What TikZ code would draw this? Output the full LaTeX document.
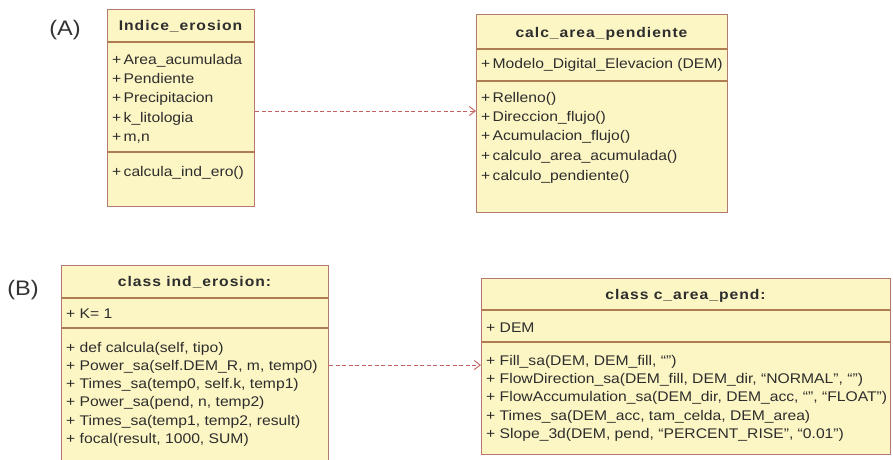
\documentclass[tikz,border=0pt]{standalone}
\usepackage{fontspec}
\setmainfont{Liberation Sans}[FakeStretch=1.12]
\usetikzlibrary{arrows.meta}
\definecolor{boxfill}{RGB}{252,246,196}
\definecolor{boxedge}{RGB}{178,122,112}
\definecolor{divline}{RGB}{176,124,84}
\definecolor{arrowc}{RGB}{196,96,96}
\definecolor{txt}{RGB}{45,45,45}
\tikzset{
  classbox/.style={draw=boxedge, fill=boxfill, line width=1.3pt, inner sep=0pt, anchor=north west},
  divider/.style={draw=divline, line width=1.8pt},
  rowtext/.style={anchor=base west, inner sep=0pt, text=txt, font=\fontsize{14}{16}\selectfont},
  hdrtext/.style={anchor=base, inner sep=0pt, text=txt, font=\fontsize{14}{16}\selectfont\bfseries\addfontfeatures{LetterSpace=7}},
  lbltext/.style={inner sep=0pt, text=black!80, font=\fontsize{21}{24}\selectfont},
  dep/.style={draw=arrowc, line width=0.9pt, dash pattern=on 4pt off 2.5pt, -{Straight Barb[length=6pt,width=9pt]}}
}
\begin{document}
\begin{tikzpicture}[x=1pt,y=-1pt]
\clip (0,0) rectangle (893,459);
\fill[white] (0,0) rectangle (893,459);

% labels
\node[lbltext] (la) at (65,30) {(A)};
\node[lbltext] (lb) at (23,290) {(B)};

% ---------- A1 ----------
\node[classbox, minimum width=147pt, minimum height=197pt] (a1) at (107,9) {};
\draw[divider] (a1.west |- 0,42) -- (a1.east |- 0,42);
\draw[divider] (a1.west |- 0,152) -- (a1.east |- 0,152);
\node[hdrtext] (a1h) at (180.5,30) {Indice\_erosion};
\node[rowtext] (a1r1) at (112,64) {+\,Area\_acumulada};
\node[rowtext] (a1r2) at (112,83.5) {+\,Pendiente};
\node[rowtext] (a1r3) at (112,102.5) {+\,Precipitacion};
\node[rowtext] (a1r4) at (112,122) {+\,k\_litologia};
\node[rowtext] (a1r5) at (112,141) {+\,m,n};
\node[rowtext] (a1m1) at (112,176) {+\,calcula\_ind\_ero()};

% ---------- A2 ----------
\node[classbox, minimum width=251pt, minimum height=198pt] (a2) at (476,14) {};
\draw[divider] (a2.west |- 0,49) -- (a2.east |- 0,49);
\draw[divider] (a2.west |- 0,81) -- (a2.east |- 0,81);
\node[hdrtext] (a2h) at (601.5,37) {calc\_area\_pendiente};
\node[rowtext] (a2r1) at (481,68) {+\,Modelo\_Digital\_Elevacion (DEM)};
\node[rowtext] (a2m1) at (481,102) {+\,Relleno()};
\node[rowtext] (a2m2) at (481,121) {+\,Direccion\_flujo()};
\node[rowtext] (a2m3) at (481,140) {+\,Acumulacion\_flujo()};
\node[rowtext] (a2m4) at (481,160) {+\,calculo\_area\_acumulada()};
\node[rowtext] (a2m5) at (481,180) {+\,calculo\_pendiente()};

% ---------- B1 ----------
\node[classbox, minimum width=267pt, minimum height=215pt] (b1) at (61,265) {};
\draw[divider] (b1.west |- 0,298) -- (b1.east |- 0,298);
\draw[divider] (b1.west |- 0,328) -- (b1.east |- 0,328);
\node[hdrtext] (b1h) at (194.5,286) {class ind\_erosion:};
\node[rowtext] (b1r1) at (66,318) {+ K= 1};
\node[rowtext] (b1m1) at (66,352) {+ def calcula(self, tipo)};
\node[rowtext] (b1m2) at (66,370) {+ Power\_sa(self.DEM\_R, m, temp0)};
\node[rowtext] (b1m3) at (66,388) {+ Times\_sa(temp0, self.k, temp1)};
\node[rowtext] (b1m4) at (66,406) {+ Power\_sa(pend, n, temp2)};
\node[rowtext] (b1m5) at (66,425) {+ Times\_sa(temp1, temp2, result)};
\node[rowtext] (b1m6) at (66,443) {+ focal(result, 1000, SUM)};

% ---------- B2 ----------
\node[classbox, minimum width=409pt, minimum height=176pt] (b2) at (481,278) {};
\draw[divider] (b2.west |- 0,310) -- (b2.east |- 0,310);
\draw[divider] (b2.west |- 0,342) -- (b2.east |- 0,342);
\node[hdrtext] (b2h) at (685.5,299) {class c\_area\_pend:};
\node[rowtext] (b2r1) at (486,332) {+ DEM};
\node[rowtext] (b2m1) at (486,365) {+ Fill\_sa(DEM, DEM\_fill, ``'')};
\node[rowtext] (b2m2) at (486,383) {+ FlowDirection\_sa(DEM\_fill, DEM\_dir, ``NORMAL'', ``'')};
\node[rowtext] (b2m3) at (486,401) {+ FlowAccumulation\_sa(DEM\_dir, DEM\_acc, ``'', ``FLOAT'')};
\node[rowtext] (b2m4) at (486,420) {+ Times\_sa(DEM\_acc, tam\_celda, DEM\_area)};
\node[rowtext] (b2m5) at (486,438) {+ Slope\_3d(DEM, pend, ``PERCENT\_RISE'', ``0.01'')};

% ---------- connectors ----------
\coordinate (pa) at (0,111);
\draw[dep] (a1.east |- pa) -- (a2.west |- pa);
\coordinate (pb) at (0,365);
\draw[dep] (b1.east |- pb) -- (b2.west |- pb);
\end{tikzpicture}
\end{document}
